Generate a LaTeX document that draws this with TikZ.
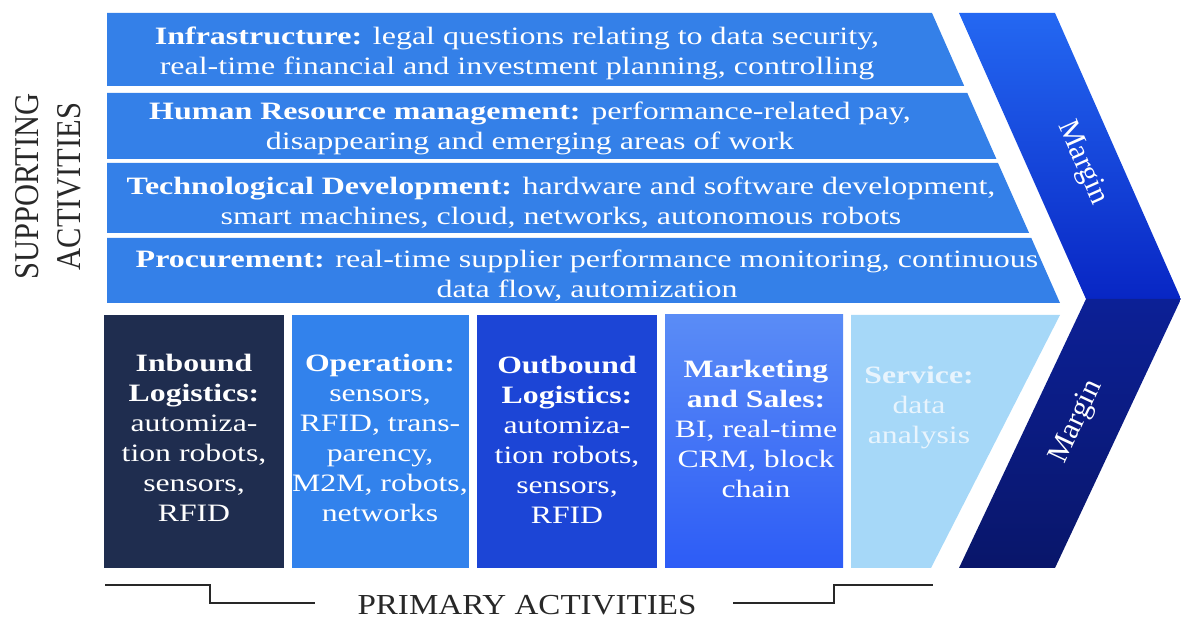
\documentclass[tikz,border=0pt]{standalone}
\usepackage{fontspec}
\setmainfont{Liberation Serif}
\definecolor{barblue}{RGB}{52,128,232}
\definecolor{inbound}{RGB}{31,45,79}
\definecolor{operation}{RGB}{50,130,236}
\definecolor{outbound}{RGB}{28,69,214}
\definecolor{mkttop}{RGB}{90,140,246}
\definecolor{mktbot}{RGB}{45,92,246}
\definecolor{service}{RGB}{166,216,248}
\definecolor{servicetext}{RGB}{232,244,253}
\definecolor{marginA}{RGB}{36,104,242}
\definecolor{marginB}{RGB}{8,38,196}
\definecolor{marginC}{RGB}{12,32,150}
\definecolor{marginD}{RGB}{9,22,106}
\definecolor{labelgray}{RGB}{40,40,40}
\newcommand\tallstrut{\rule{0pt}{22pt}}
\begin{document}
\begin{tikzpicture}[x=1pt,y=1pt,
  bartext/.style={xscale=1.28, transform shape, anchor=north, align=center,
    inner sep=0pt, text=white, font=\fontsize{25}{30}\selectfont},
  boxtext/.style={xscale=1.27, transform shape, anchor=north, align=center,
    inner sep=0pt, text=white, font=\fontsize{25}{30}\selectfont},
  margintext/.style={inner sep=0pt, text=white, font=\fontsize{30}{34}\selectfont},
  sidelabel/.style={xscale=1.14, transform shape, anchor=base, inner sep=0pt,
    text=labelgray},
  bracket/.style={draw=labelgray, line width=2.5pt, line join=miter}]
\useasboundingbox (0,0) rectangle (1181,620);

% supporting activities: four bars with a common slanted right edge
\fill[barblue] (107,607) -- (932,607) -- (964.2,534) -- (107,534) -- cycle;
\fill[barblue] (107,527) -- (967.3,527) -- (996.4,461) -- (107,461) -- cycle;
\fill[barblue] (107,457) -- (998,457) -- (1029.1,387) -- (107,387) -- cycle;
\fill[barblue] (107,382) -- (1031.3,382) -- (1060,317) -- (107,317) -- cycle;

% primary activities
\fill[inbound]   (104,52) rectangle (284,305);
\fill[operation] (292,52) rectangle (469,305);
\fill[outbound]  (477,52) rectangle (657,305);
\shade[top color=mkttop, bottom color=mktbot] (665,52) rectangle (843,305);
\fill[service] (851,52) -- (851,305) -- (1060,305) -- (931,52) -- cycle;

% margin chevron
\shade[top color=marginA, bottom color=marginB]
  (959,607) -- (1055,607) -- (1181,321) -- (1086,321) -- cycle;
\shade[top color=marginC, bottom color=marginD]
  (1086,321) -- (1181,321) -- (1055,52) -- (959,52) -- cycle;

% bar texts
\node[shift={(517,598)}, bartext] (infra) at (0,0)
  {\tallstrut\textbf{Infrastructure:} legal questions relating to data security,\\
   real-time financial and investment planning, controlling};
\node[shift={(530,523)}, bartext] (hrm) at (0,0)
  {\tallstrut\textbf{Human Resource management:} performance-related pay,\\
   disappearing and emerging areas of work};
\node[shift={(561,448)}, bartext] (tech) at (0,0)
  {\tallstrut\textbf{Technological Development:} hardware and software development,\\
   smart machines, cloud, networks, autonomous robots};
\node[shift={(587,375)}, bartext] (proc) at (0,0)
  {\tallstrut\textbf{Procurement:} real-time supplier performance monitoring, continuous\\
   data flow, automization};

% box texts
\node[shift={(194,271)}, boxtext] (inb) at (0,0)
  {\tallstrut\textbf{Inbound}\\\textbf{Logistics:}\\automiza-\\tion robots,\\sensors,\\RFID};
\node[shift={(380,271)}, boxtext] (oper) at (0,0)
  {\tallstrut\textbf{Operation:}\\sensors,\\RFID, trans-\\parency,\\M2M, robots,\\networks};
\node[shift={(567,269)}, boxtext] (outb) at (0,0)
  {\tallstrut\textbf{Outbound}\\\textbf{Logistics:}\\automiza-\\tion robots,\\sensors,\\RFID};
\node[shift={(756,265)}, boxtext] (mkt) at (0,0)
  {\tallstrut\textbf{Marketing}\\\textbf{and Sales:}\\BI, real-time\\CRM, block\\chain};
\node[shift={(919,259)}, boxtext, text=servicetext] (serv) at (0,0)
  {\tallstrut\textbf{Service:}\\data\\analysis};

% margin labels
\node[margintext, rotate=-66] (marginup) at (1082,457) {Margin};
\node[margintext, rotate=65] (marginlow) at (1077,198) {Margin};

% side labels
\node[shift={(38,433.5)}, sidelabel, rotate=90, font=\fontsize{30.5}{34}\selectfont]
  (supp) at (0,0) {SUPPORTING};
\node[shift={(80,433.5)}, sidelabel, rotate=90, font=\fontsize{30.5}{34}\selectfont]
  (acts) at (0,0) {ACTIVITIES};
\node[shift={(527,5.5)}, sidelabel, font=\fontsize{29}{34}\selectfont]
  (prim) at (0,0) {PRIMARY ACTIVITIES};

% primary activities bracket
\draw[bracket] (105,35) -- (210,35) -- (210,17) -- (315,17);
\draw[bracket] (733,17) -- (834,17) -- (834,35) -- (933,35);
\end{tikzpicture}
\end{document}
